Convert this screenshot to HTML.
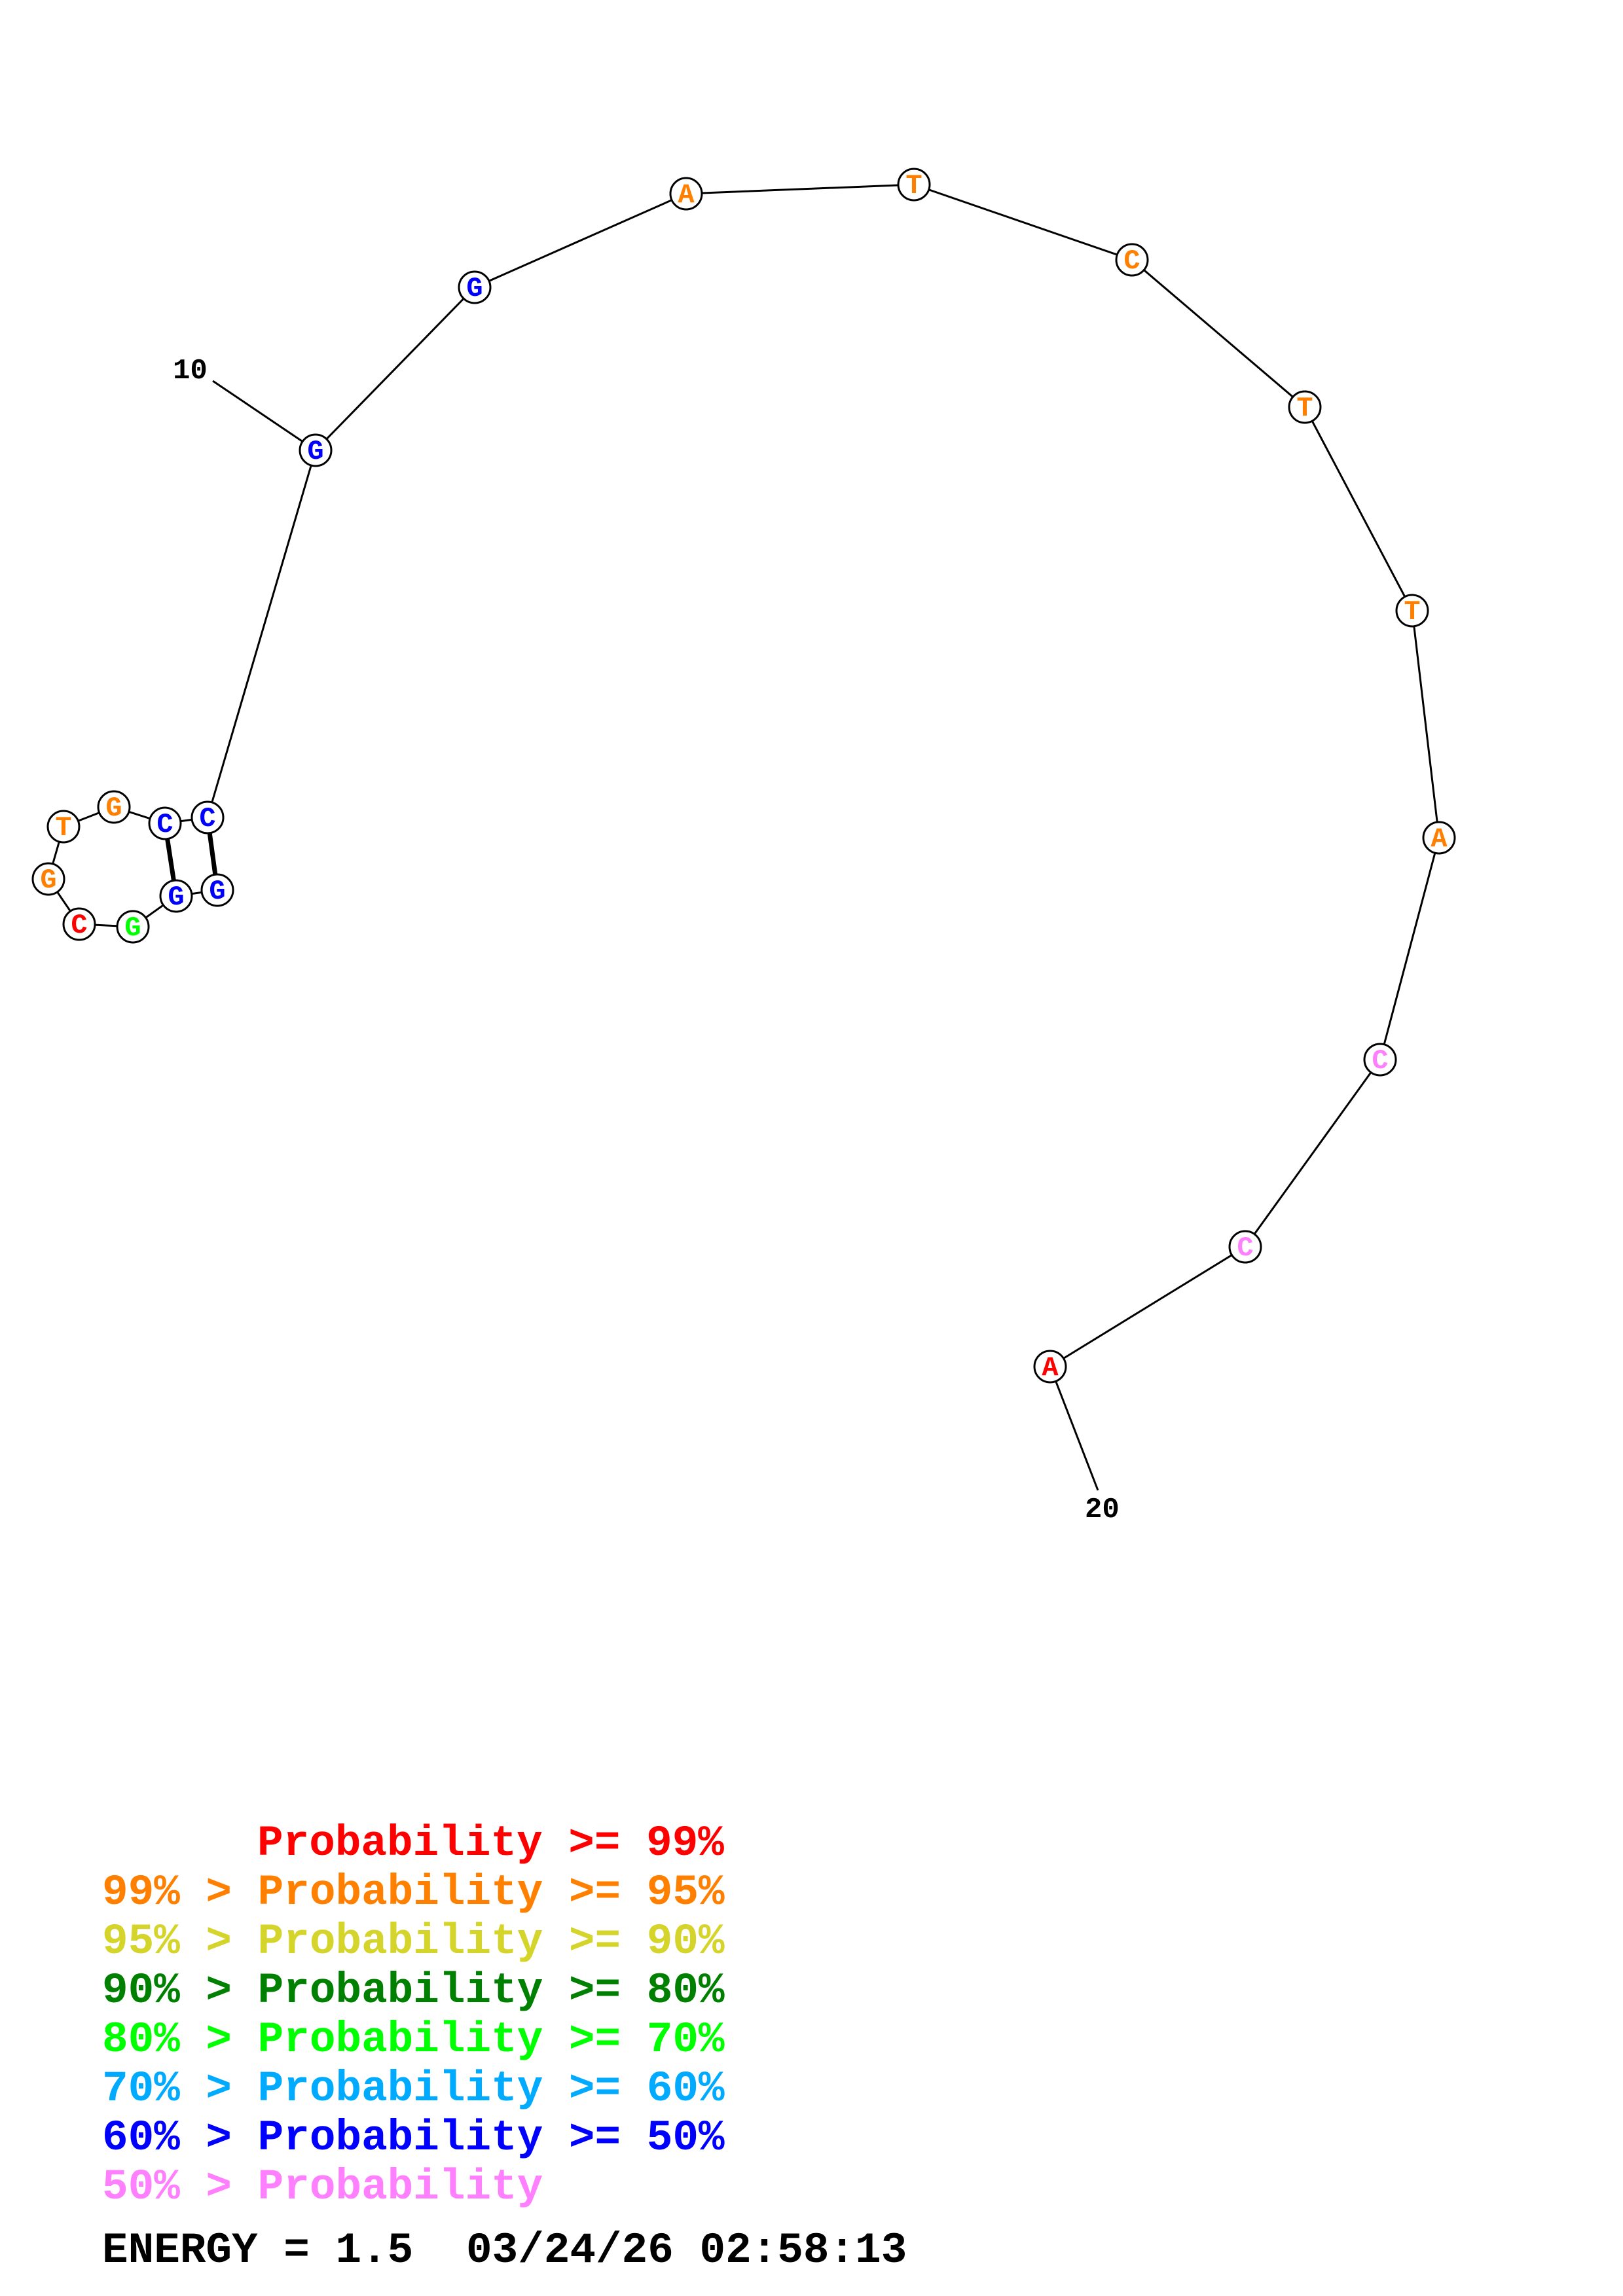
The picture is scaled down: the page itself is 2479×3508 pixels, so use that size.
<!DOCTYPE html>
<html><head><meta charset="utf-8"><style>
html,body{margin:0;padding:0;background:#fff;}
svg{display:block;}
text{font-family:"Liberation Mono",monospace;font-weight:bold;white-space:pre;}
</style></head><body>
<svg width="2479" height="3508" viewBox="0 0 2479 3508" xmlns="http://www.w3.org/2000/svg">
<rect width="2479" height="3508" fill="#fff"/>
<g stroke="#000" stroke-width="3" fill="none">
<polyline points="332,1360 269,1369 203,1416 121,1412 74,1343 97,1263 174,1233 252,1258 317,1249 482,688 725,439 1048,296 1396,282 1729,397 1993,622 2157,933 2198,1280 2108,1619 1902,1905 1604,2088"/>
<line x1="325" y1="582" x2="482" y2="688"/>
<line x1="1604" y1="2088" x2="1677" y2="2277"/>
<line x1="252" y1="1258" x2="269" y2="1369" stroke-width="7"/>
<line x1="317" y1="1249" x2="332" y2="1360" stroke-width="7"/>
</g>
<g stroke="#000" stroke-width="3" fill="#fff">
<circle cx="332" cy="1360" r="24"/><circle cx="269" cy="1369" r="24"/><circle cx="203" cy="1416" r="24"/>
<circle cx="121" cy="1412" r="24"/><circle cx="74" cy="1343" r="24"/><circle cx="97" cy="1263" r="24"/>
<circle cx="174" cy="1233" r="24"/><circle cx="252" cy="1258" r="24"/><circle cx="317" cy="1249" r="24"/>
<circle cx="482" cy="688" r="24"/><circle cx="725" cy="439" r="24"/><circle cx="1048" cy="296" r="24"/>
<circle cx="1396" cy="282" r="24"/><circle cx="1729" cy="397" r="24"/><circle cx="1993" cy="622" r="24"/>
<circle cx="2157" cy="933" r="24"/><circle cx="2198" cy="1280" r="24"/><circle cx="2108" cy="1619" r="24"/>
<circle cx="1902" cy="1905" r="24"/><circle cx="1604" cy="2088" r="24"/>
</g>
<g font-size="42" text-anchor="middle" dominant-baseline="central">
<text x="332" y="1362" fill="#0000ff">G</text><text x="269" y="1371" fill="#0000ff">G</text>
<text x="203" y="1418" fill="#00ff00">G</text><text x="121" y="1414" fill="#ff0000">C</text>
<text x="74" y="1345" fill="#ff8000">G</text><text x="97" y="1265" fill="#ff8000">T</text>
<text x="174" y="1235" fill="#ff8000">G</text><text x="252" y="1260" fill="#0000ff">C</text>
<text x="317" y="1251" fill="#0000ff">C</text><text x="482" y="690" fill="#0000ff">G</text>
<text x="725" y="441" fill="#0000ff">G</text><text x="1048" y="298" fill="#ff8000">A</text>
<text x="1396" y="284" fill="#ff8000">T</text><text x="1729" y="399" fill="#ff8000">C</text>
<text x="1993" y="624" fill="#ff8000">T</text><text x="2157" y="935" fill="#ff8000">T</text>
<text x="2198" y="1282" fill="#ff8000">A</text><text x="2108" y="1621" fill="#ff80ff">C</text>
<text x="1902" y="1907" fill="#ff80ff">C</text><text x="1604" y="2090" fill="#ff0000">A</text>
</g>
<text x="264" y="578" font-size="44" fill="#000">10</text>
<text x="1657" y="2318" font-size="44" fill="#000">20</text>
<g font-size="66">
<text x="393" y="2834" fill="#ff0000">Probability &gt;= 99%</text>
<text x="156" y="2909" fill="#ff8000">99% &gt; Probability &gt;= 95%</text>
<text x="156" y="2984" fill="#d4d42a">95% &gt; Probability &gt;= 90%</text>
<text x="156" y="3059" fill="#008000">90% &gt; Probability &gt;= 80%</text>
<text x="156" y="3134" fill="#00ff00">80% &gt; Probability &gt;= 70%</text>
<text x="156" y="3209" fill="#00aaff">70% &gt; Probability &gt;= 60%</text>
<text x="156" y="3284" fill="#0000ff">60% &gt; Probability &gt;= 50%</text>
<text x="156" y="3359" fill="#ff80ff">50% &gt; Probability</text>
<text x="156" y="3456" fill="#000">ENERGY = 1.5</text>
<text x="712" y="3456" fill="#000">03/24/26 02:58:13</text>
</g>
</svg>
</body></html>
